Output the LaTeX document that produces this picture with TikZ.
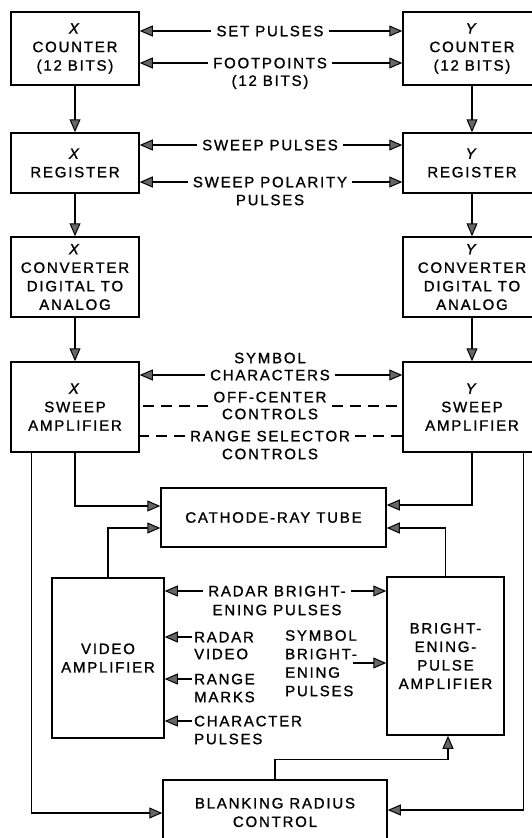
\documentclass[tikz,border=0pt]{standalone}
\usepackage{fontspec}
\setmainfont{Liberation Sans}[LetterSpace=12,FakeBold=1.2]
\usetikzlibrary{arrows.meta,calc}
\begin{document}
\begin{tikzpicture}[x=1pt,y=-1pt,
  every node/.style={font=\fontsize{15}{18.5}\selectfont, align=center, inner sep=0pt},
  box/.style={draw, line width=1.5pt},
  lbl/.style={inner xsep=5pt, text height=10.5pt, text depth=0pt},
  sl/.style={inner xsep=2pt, text height=10.5pt, text depth=0pt, anchor=west},
  arr/.style={line width=1.5pt, -{Triangle[length=13pt,width=11pt,fill=black!60,line width=1pt]}},
  dsh/.style={line width=1.5pt, dash pattern=on 11pt off 7pt}]
\useasboundingbox (0,0) rectangle (532,838);
\clip (0,0) rectangle (532,838);

% boxes, X column
\node[box, minimum width=128pt, minimum height=73pt] (XC) at (75,48.5) {\textit{X}\\COUNTER\\(12 BITS)};
\node[box, minimum width=128pt, minimum height=60pt] (XR) at (75,163) {\textit{X}\\REGISTER};
\node[box, minimum width=128pt, minimum height=80pt] (XD) at (75,277) {\textit{X}\\CONVERTER\\DIGITAL TO\\ANALOG};
\node[box, minimum width=128pt, minimum height=90pt] (XS) at (75,407) {\textit{X}\\SWEEP\\AMPLIFIER};
% boxes, Y column
\node[box, minimum width=138pt, minimum height=73pt] (YC) at (472,48.5) {\textit{Y}\\COUNTER\\(12 BITS)};
\node[box, minimum width=138pt, minimum height=60pt] (YR) at (472,163) {\textit{Y}\\REGISTER};
\node[box, minimum width=138pt, minimum height=80pt] (YD) at (472,277) {\textit{Y}\\CONVERTER\\DIGITAL TO\\ANALOG};
\node[box, minimum width=138pt, minimum height=90pt] (YS) at (472,407) {\textit{Y}\\SWEEP\\AMPLIFIER};
% lower boxes
\node[box, minimum width=225pt, minimum height=59pt] (CRT) at (273.5,517.5) {CATHODE-RAY TUBE};
\node[box, minimum width=112pt, minimum height=160pt] (VA) at (108,658) {VIDEO\\AMPLIFIER};
\node[box, minimum width=117pt, minimum height=158pt] (BA) at (445.5,656) {BRIGHT-\\ENING-\\PULSE\\AMPLIFIER};
\node[box, minimum width=224pt, minimum height=65pt] (BR) at (275,812.5) {BLANKING RADIUS\\CONTROL};

% column arrows
\draw[arr] (XC.south) -- (XR.north);
\draw[arr] (XR.south) -- (XD.north);
\draw[arr] (XD.south) -- (XS.north);
\draw[arr] (YC.south) -- (YR.north);
\draw[arr] (YR.south) -- (YD.north);
\draw[arr] (YD.south) -- (YS.north);

% middle labels with arrows
\node[lbl] (sp) at (270,31) {SET PULSES};
\draw[arr] (sp.west) -- (sp.west -| XC.east);
\draw[arr] (sp.east) -- (sp.east -| YC.west);
\node[lbl] (fp) at (270,63) {FOOTPOINTS};
\node (fp2) at (270,82) {(12 BITS)};
\draw[arr] (fp.west) -- (fp.west -| XC.east);
\draw[arr] (fp.east) -- (fp.east -| YC.west);

\node[lbl] (swp) at (270,145) {SWEEP PULSES};
\draw[arr] (swp.west) -- (swp.west -| XR.east);
\draw[arr] (swp.east) -- (swp.east -| YR.west);
\node[lbl] (spo) at (270,182) {SWEEP POLARITY};
\node (spo2) at (270,200) {PULSES};
\draw[arr] (spo.west) -- (spo.west -| XR.east);
\draw[arr] (spo.east) -- (spo.east -| YR.west);

\node (sym) at (270,358) {SYMBOL};
\node[lbl] (chr) at (270,375) {CHARACTERS};
\draw[arr] (chr.west) -- (chr.west -| XS.east);
\draw[arr] (chr.east) -- (chr.east -| YS.west);
\node[lbl] (oc) at (270,397) {OFF-CENTER};
\node (oc2) at (270,414) {CONTROLS};
\draw[dsh] ([yshift=-9pt]oc.west) -- ([yshift=-9pt]oc.west -| XS.east);
\draw[dsh] ([yshift=-9pt]oc.east) -- ([yshift=-9pt]oc.east -| YS.west);
\node[lbl] (rs) at (270,436) {RANGE SELECTOR};
\node (rs2) at (270,454) {CONTROLS};
\draw[dsh] (rs.west) -- (rs.west -| XS.east);
\draw[dsh] (rs.east) -- (rs.east -| YS.west);

% to the cathode-ray tube
\draw[arr] (XS.south) |- ($(CRT.west)+(0,-11.5)$);
\draw[arr] (VA.north) |- ($(CRT.west)+(0,10.5)$);
\draw[arr] (YS.south) |- ($(CRT.east)+(0,-12.5)$);
\draw[arr] (BA.north) |- ($(CRT.east)+(0,10.5)$);

% between video and brightening amplifiers
\node[lbl] (rb) at (277,591) {RADAR BRIGHT-};
\node (rb2) at (277,610) {ENING PULSES};
\draw[arr] (rb.west) -- (rb.west -| VA.east);
\draw[arr] (rb.east) -- (rb.east -| BA.west);

\node[sl] (rv) at (192,637) {RADAR};
\node[anchor=west] (rv2) at (194,654) {VIDEO};
\draw[arr] (rv.west) -- (rv.west -| VA.east);
\node[sl] (rm) at (192,679) {RANGE};
\node[anchor=west] (rm2) at (194,697) {MARKS};
\draw[arr] (rm.west) -- (rm.west -| VA.east);
\node[sl] (cp) at (192,721) {CHARACTER};
\node[anchor=west] (cp2) at (194,739) {PULSES};
\draw[arr] (cp.west) -- (cp.west -| VA.east);

\node[anchor=north west, align=left] (sb) at (285,630) {SYMBOL\\BRIGHT-\\ENING\\PULSES};
\coordinate (sbo) at (353,663);
\draw[arr] (sbo) -- (sbo -| BA.west);

% blanking radius control
\draw[arr] ($(XS.south west)+(21,0)$) |- ($(BR.west)+(0,0.5)$);
\draw[arr] ($(YS.south west)+(121,0)$) |- ($(BR.east)+(0,-2.5)$);
\draw[arr] (BR.north) -- ++(0,-20) -| ($(BA.south)+(2.5,0)$);
\end{tikzpicture}
\end{document}
